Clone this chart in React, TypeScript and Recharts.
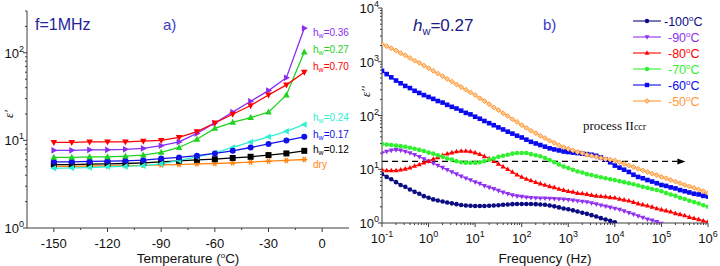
import React from 'react'
import { LineChart, Line, XAxis, YAxis, ReferenceLine } from 'recharts'

// ---- panel a) : eps' at 1 MHz vs temperature ----
const temps = [-150, -140, -130, -120, -110, -100, -90, -80, -70, -60, -50, -40, -30, -20, -10]
const epsDry = [5.05, 5.05, 5.1, 5.1, 5.15, 5.2, 5.25, 5.3, 5.4, 5.45, 5.55, 5.65, 5.8, 5.9, 6.05]
const eps012 = [5.3, 5.3, 5.35, 5.4, 5.45, 5.55, 5.7, 5.85, 6.0, 6.1, 6.3, 6.5, 6.8, 7.1, 7.6]
const eps017 = [5.7, 5.7, 5.75, 5.8, 5.85, 5.95, 6.2, 6.4, 6.7, 7.1, 7.6, 8.3, 9.1, 10, 11]
const eps024 = [4.8, 4.85, 4.9, 5.0, 5.05, 5.15, 5.4, 5.9, 6.5, 7.2, 8.3, 9.6, 11, 12.7, 15.2]
const eps027 = [6.4, 6.4, 6.5, 6.5, 6.6, 6.8, 7.3, 8.3, 10.3, 13.7, 16.1, 18.2, 21, 33, 102]
const eps036 = [7.7, 7.7, 7.8, 7.8, 7.9, 8.1, 8.7, 9.6, 12, 15.8, 21, 28, 37, 52, 191]
const eps070 = [9.5, 9.5, 9.6, 9.6, 9.6, 9.8, 10.0, 10.8, 12.6, 15.8, 19.9, 25, 33, 43, 60]

const tMajor = [-150, -120, -90, -60, -30, 0]
const tTicks = [-150, -135, -120, -105, -90, -75, -60, -45, -30, -15, 0]
const epsMajorA = [1, 10, 100]
const epsTicksA = [1, 2, 3, 4, 5, 6, 7, 8, 9, 10, 20, 30, 40, 50, 60, 70, 80, 90, 100, 200, 300]

// ---- panel b) : eps'' vs frequency, hw = 0.27 ----
const freqs = [
  0.1, 0.126, 0.158, 0.2, 0.251, 0.316, 0.398, 0.501, 0.631, 0.794,
  1, 1.26, 1.58, 2, 2.51, 3.16, 3.98, 5.01, 6.31, 7.94,
  10, 12.6, 15.8, 20, 25.1, 31.6, 39.8, 50.1, 63.1, 79.4,
  100, 126, 158, 200, 251, 316, 398, 501, 631, 794,
  1000, 1260, 1580, 2000, 2510, 3160, 3980, 5010, 6310, 7940,
  10000, 12600, 15800, 20000, 25100, 31600, 39800, 50100, 63100, 79400,
  100000, 126000, 158000, 200000, 251000, 316000, 398000, 501000, 631000, 794000,
  1000000,
]
const loss100 = [
  8.1, 7.2, 6.5, 5.75, 5.1, 4.7, 4.2, 3.8, 3.5, 3.16,
  2.95, 2.75, 2.63, 2.51, 2.4, 2.32, 2.24, 2.16, 2.11, 2.09,
  2.07, 2.07, 2.07, 2.09, 2.11, 2.14, 2.19, 2.21, 2.24, 2.26,
  2.26, 2.26, 2.26, 2.24, 2.21, 2.19, 2.11, 2.04, 1.95, 1.86,
  1.8, 1.72, 1.64, 1.55, 1.48, 1.4, 1.32, 1.23, 1.16, 1.1,
  1.03,
]
const loss90 = [
  20, 21.4, 22.4, 22.9, 22.4, 21.4, 20, 18.6, 17, 15.5,
  14.1, 12.9, 11.7, 10.7, 9.8, 8.9, 8.1, 7.4, 6.8, 6.3,
  5.75, 5.4, 4.9, 4.6, 4.3, 4.0, 3.7, 3.5, 3.3, 3.16,
  3.1, 3.0, 2.95, 2.92, 2.88, 2.88, 2.85, 2.82, 2.79, 2.75,
  2.7, 2.63, 2.57, 2.51, 2.45, 2.34, 2.24, 2.14, 2.04, 1.95,
  1.86, 1.78, 1.66, 1.55, 1.45, 1.35, 1.26, 1.17, 1.12, 1.05,
  0.98,
]
const loss80 = [
  9.8, 9.5, 9.5, 9.5, 9.8, 10.2, 10.7, 11.5, 12.3, 13.2,
  14.1, 15.5, 16.6, 18.2, 19.5, 20.4, 21.4, 21.9, 21.9, 21.4,
  20.4, 19.1, 17.4, 15.8, 14.1, 12.6, 11.2, 10, 8.9, 7.9,
  7.2, 6.6, 6.2, 5.75, 5.4, 5.1, 4.8, 4.6, 4.3, 4.1,
  3.9, 3.8, 3.6, 3.55, 3.45, 3.3, 3.2, 3.15, 3.1, 3.0,
  2.95, 2.8, 2.7, 2.6, 2.45, 2.3, 2.2, 2.1, 2.0, 1.86,
  1.78, 1.7, 1.62, 1.51, 1.45, 1.38, 1.29, 1.23, 1.17, 1.1,
  1.05,
]
const loss70 = [
  29.5, 28.8, 28.2, 27.5, 26.9, 26.3, 25.1, 24, 22.9, 21.9,
  20.4, 19.5, 18.2, 17, 15.8, 15.1, 14.1, 13.5, 13.2, 13.2,
  13.2, 13.5, 14.1, 15.1, 15.8, 17, 17.8, 18.6, 19.5, 20,
  20, 20, 19.1, 18.2, 17.4, 16.2, 14.8, 13.5, 12.3, 11.2,
  10.5, 9.8, 9.1, 8.7, 8.1, 7.8, 7.4, 7.1, 6.8, 6.5,
  6.3, 6.0, 5.75, 5.5, 5.25, 5.0, 4.7, 4.5, 4.3, 4.1,
  3.9, 3.6, 3.4, 3.2, 2.95, 2.8, 2.6, 2.45, 2.3, 2.14,
  2.0,
]
const loss60 = [
  676, 589, 513, 447, 398, 355, 324, 288, 263, 240,
  221, 204, 186, 174, 158, 145, 135, 123, 112, 105,
  95, 87, 79, 72, 66, 60, 55, 50, 46, 42,
  39, 35.5, 32.4, 30.2, 28.2, 26.3, 24.5, 23.4, 22.4, 21.4,
  20.9, 20.4, 20, 19.5, 19.1, 18.6, 17.8, 16.6, 15.1, 13.5,
  11.7, 10.7, 9.8, 8.9, 7.9, 7.2, 6.8, 6.3, 5.9, 5.5,
  5.1, 4.9, 4.6, 4.4, 4.1, 3.9, 3.7, 3.5, 3.4, 3.2,
  3.1,
]
const loss50 = [
  2140, 1950, 1780, 1620, 1450, 1320, 1175, 1050, 955, 851,
  759, 676, 603, 537, 479, 427, 380, 339, 302, 269,
  240, 209, 186, 162, 141, 126, 110, 98, 85, 76,
  66, 59, 52, 47, 42, 38, 34, 31, 28, 25.7,
  24, 22.4, 20.9, 20, 18.6, 17.8, 17, 16.2, 15.5, 15.1,
  14.5, 13.5, 12.6, 11.7, 11, 10.2, 9.5, 8.9, 8.3, 7.8,
  7.2, 6.8, 6.3, 5.9, 5.5, 5.1, 4.8, 4.5, 4.2, 3.9,
  3.6,
]

const fMajor = [0.1, 1, 10, 100, 1000, 10000, 100000, 1000000]
const fTicks = [
  0.1, 0.2, 0.3, 0.4, 0.5, 0.6, 0.7, 0.8, 0.9,
  1, 2, 3, 4, 5, 6, 7, 8, 9,
  10, 20, 30, 40, 50, 60, 70, 80, 90,
  100, 200, 300, 400, 500, 600, 700, 800, 900,
  1000, 2000, 3000, 4000, 5000, 6000, 7000, 8000, 9000,
  10000, 20000, 30000, 40000, 50000, 60000, 70000, 80000, 90000,
  100000, 200000, 300000, 400000, 500000, 600000, 700000, 800000, 900000,
  1000000,
]
const lossMajor = [1, 10, 100, 1000, 10000]
const lossTicks = [
  1, 2, 3, 4, 5, 6, 7, 8, 9,
  10, 20, 30, 40, 50, 60, 70, 80, 90,
  100, 200, 300, 400, 500, 600, 700, 800, 900,
  1000, 2000, 3000, 4000, 5000, 6000, 7000, 8000, 9000,
  10000,
]
const processLevel = 14

const FONT = '"Liberation Sans", Arial, sans-serif'
const AXIS = '#3c3c3c'

type Shape = 'circle' | 'square' | 'up' | 'down' | 'left' | 'right' | 'diamond' | 'star'

const seriesA = [
  { key: 'dry', label: 'dry', data: epsDry, color: '#ff8410', shape: 'star' as Shape, ly: 167.5 },
  { key: 'h12', label: '0.12', data: eps012, color: '#000000', shape: 'square' as Shape, ly: 152.5 },
  { key: 'h24', label: '0.24', data: eps024, color: '#2ff0d2', shape: 'left' as Shape, ly: 120.5 },
  { key: 'h17', label: '0.17', data: eps017, color: '#1212e8', shape: 'circle' as Shape, ly: 137.5 },
  { key: 'h27', label: '0.27', data: eps027, color: '#1ed21e', shape: 'up' as Shape, ly: 52.5 },
  { key: 'h36', label: '0.36', data: eps036, color: '#8a2cf2', shape: 'right' as Shape, ly: 35.5 },
  { key: 'h70', label: '0.70', data: eps070, color: '#ff0000', shape: 'down' as Shape, ly: 69.5 },
]

const seriesB = [
  { key: 'm100', label: '-100', data: loss100, color: '#0c0c82', shape: 'circle' as Shape },
  { key: 'm90', label: '-90', data: loss90, color: '#9030f0', shape: 'down' as Shape },
  { key: 'm80', label: '-80', data: loss80, color: '#ff0000', shape: 'up' as Shape },
  { key: 'm70', label: '-70', data: loss70, color: '#30f030', shape: 'circle' as Shape },
  { key: 'm60', label: '-60', data: loss60, color: '#0a0af0', shape: 'square' as Shape },
  { key: 'm50', label: '-50', data: loss50, color: '#ff9a38', shape: 'diamond' as Shape },
]

const rowsA = temps.map((t, i) => {
  const row: Record<string, number> = { t }
  seriesA.forEach((s) => (row[s.key] = s.data[i]))
  return row
})

const rowsB = freqs.map((f, i) => {
  const row: Record<string, number | null> = { f }
  seriesB.forEach((s) => (row[s.key] = s.data[i] ?? null))
  return row
})

function Marker({ shape, cx, cy, r, color }: { shape: Shape; cx: number; cy: number; r: number; color: string }) {
  switch (shape) {
    case 'circle':
      return <circle cx={cx} cy={cy} r={r} fill={color} />
    case 'square':
      return <rect x={cx - r} y={cy - r} width={2 * r} height={2 * r} fill={color} />
    case 'up':
      return <polygon points={`${cx},${cy - r * 1.2} ${cx + r * 1.1},${cy + r * 0.8} ${cx - r * 1.1},${cy + r * 0.8}`} fill={color} />
    case 'down':
      return <polygon points={`${cx},${cy + r * 1.2} ${cx + r * 1.1},${cy - r * 0.8} ${cx - r * 1.1},${cy - r * 0.8}`} fill={color} />
    case 'left':
      return <polygon points={`${cx - r * 1.2},${cy} ${cx + r * 0.8},${cy - r * 1.1} ${cx + r * 0.8},${cy + r * 1.1}`} fill={color} />
    case 'right':
      return <polygon points={`${cx + r * 1.2},${cy} ${cx - r * 0.8},${cy - r * 1.1} ${cx - r * 0.8},${cy + r * 1.1}`} fill={color} />
    case 'diamond':
      return (
        <polygon
          points={`${cx},${cy - r * 1.1} ${cx + r * 1.1},${cy} ${cx},${cy + r * 1.1} ${cx - r * 1.1},${cy}`}
          fill="#ffc890"
          stroke={color}
          strokeWidth={1}
        />
      )
    case 'star':
      return (
        <g stroke={color} strokeWidth={1.4}>
          <line x1={cx - r} y1={cy} x2={cx + r} y2={cy} />
          <line x1={cx - r * 0.5} y1={cy - r * 0.87} x2={cx + r * 0.5} y2={cy + r * 0.87} />
          <line x1={cx - r * 0.5} y1={cy + r * 0.87} x2={cx + r * 0.5} y2={cy - r * 0.87} />
        </g>
      )
  }
  return null
}

const dotFor = (shape: Shape, color: string, r: number) => (props: any) => {
  const { cx, cy, index } = props
  if (cx == null || cy == null || Number.isNaN(cx) || Number.isNaN(cy)) return <g key={`n${index}`} />
  return (
    <g key={`d${index}`}>
      <Marker shape={shape} cx={cx} cy={cy} r={r} color={color} />
    </g>
  )
}

const pow10 = (v: number) => (
  <>
    <tspan>10</tspan>
    <tspan dy={-6} fontSize={9}>
      {Math.round(Math.log10(v))}
    </tspan>
  </>
)

type Side = 'bottom' | 'left' | 'top' | 'right'
const makeTick = (side: Side, majors: number[], label?: (v: number) => React.ReactNode) => (props: any) => {
  const { x, y, payload } = props
  const v = payload.value
  const major = majors.includes(v)
  const len = major ? 4 : 2
  let line = null
  let text = null
  if (side === 'bottom') {
    line = <line x1={x} y1={y} x2={x} y2={y + len} stroke={AXIS} />
    if (major && label)
      text = (
        <text x={x} y={y + 20} textAnchor="middle" fontSize={13} fontFamily={FONT} fill="#111">
          {label(v)}
        </text>
      )
  } else if (side === 'left') {
    line = <line x1={x} y1={y} x2={x - len} y2={y} stroke={AXIS} />
    if (major && label)
      text = (
        <text x={x - 3} y={y + 5} textAnchor="end" fontSize={13} fontFamily={FONT} fill="#111">
          {label(v)}
        </text>
      )
  } else if (side === 'top') {
    line = <line x1={x} y1={y} x2={x} y2={y + len} stroke={AXIS} />
  } else {
    line = <line x1={x} y1={y} x2={x - len} y2={y} stroke={AXIS} />
  }
  return (
    <g>
      {line}
      {text}
    </g>
  )
}

const axisCommon = {
  tickSize: 0,
  tickMargin: 0,
  tickLine: false,
  interval: 0 as const,
  stroke: AXIS,
  allowDataOverflow: true,
}

function PanelA() {
  return (
    <LineChart width={360} height={266} data={rowsA} margin={{ top: 11, right: 11, bottom: 0, left: 0 }} style={{ overflow: 'visible' }}>
      <XAxis xAxisId="b" dataKey="t" type="number" domain={[-165, 15]} ticks={tTicks} height={38} tick={makeTick('bottom', tMajor, (v) => String(v))} {...axisCommon} />
      <XAxis xAxisId="t" dataKey="t" orientation="top" type="number" domain={[-165, 15]} ticks={tTicks} height={0} tick={makeTick('top', tMajor)} {...axisCommon} />
      <YAxis yAxisId="l" type="number" scale="log" domain={[1, 300]} ticks={epsTicksA} width={27} tick={makeTick('left', epsMajorA, pow10)} {...axisCommon} />
      <YAxis yAxisId="r" orientation="right" type="number" scale="log" domain={[1, 300]} ticks={epsTicksA} width={0} tick={makeTick('right', epsMajorA)} {...axisCommon} />
      {seriesA.map((s) => (
        <Line
          key={s.key}
          xAxisId="b"
          yAxisId="l"
          dataKey={s.key}
          stroke={s.color}
          strokeWidth={1.3}
          dot={dotFor(s.shape, s.color, 3)}
          isAnimationActive={false}
        />
      ))}
    </LineChart>
  )
}

function PanelB() {
  return (
    <LineChart width={370} height={266} data={rowsB} margin={{ top: 8, right: 12, bottom: 0, left: 0 }} style={{ overflow: 'visible' }}>
      <XAxis xAxisId="b" dataKey="f" type="number" scale="log" domain={[0.1, 1000000]} ticks={fTicks} height={43} tick={makeTick('bottom', fMajor, pow10)} {...axisCommon} />
      <XAxis xAxisId="t" dataKey="f" orientation="top" type="number" scale="log" domain={[0.1, 1000000]} ticks={fTicks} height={0} tick={makeTick('top', fMajor)} {...axisCommon} />
      <YAxis yAxisId="l" type="number" scale="log" domain={[1, 10000]} ticks={lossTicks} width={32} tick={makeTick('left', lossMajor, pow10)} {...axisCommon} />
      <YAxis yAxisId="r" orientation="right" type="number" scale="log" domain={[1, 10000]} ticks={lossTicks} width={0} tick={makeTick('right', lossMajor)} {...axisCommon} />
      <ReferenceLine
        xAxisId="b"
        yAxisId="l"
        segment={[
          { x: 0.1, y: processLevel },
          { x: 220000, y: processLevel },
        ]}
        shape={(p: any) => (
          <g>
            <line x1={p.x1} y1={p.y1} x2={p.x2} y2={p.y2} stroke="#000" strokeWidth={1.2} strokeDasharray="6 4" />
            <polygon points={`${p.x2},${p.y2 - 3} ${p.x2 + 8},${p.y2} ${p.x2},${p.y2 + 3}`} fill="#000" />
          </g>
        )}
      />
      {seriesB.map((s) => (
        <Line
          key={s.key}
          xAxisId="b"
          yAxisId="l"
          dataKey={s.key}
          stroke={s.color}
          strokeWidth={1.1}
          dot={dotFor(s.shape, s.color, s.shape === 'diamond' ? 2.2 : 2.3)}
          isAnimationActive={false}
        />
      ))}
    </LineChart>
  )
}

function Overlay() {
  const legendY = [21, 37, 53, 69, 85, 101]
  return (
    <svg width={720} height={266} style={{ position: 'absolute', left: 0, top: 0, pointerEvents: 'none' }} fontFamily={FONT}>
      {/* panel a */}
      <text x={35} y={30} fontSize={16} fill="#23239c">f=1MHz</text>
      <text x={163} y={30} fontSize={15} fill="#3a3ac8">a)</text>
      {seriesA.map((s) => (
        <text key={s.key} x={313} y={s.ly} fontSize={10} fill={s.color}>
          {s.key === 'dry' ? (
            'dry'
          ) : (
            <>
              h<tspan fontSize={7} dy={2}>w</tspan>
              <tspan dy={-2}>={s.label}</tspan>
            </>
          )}
        </text>
      ))}
      <text x={188} y={263} fontSize={13.5} textAnchor="middle" fill="#111">
        Temperature (<tspan fontSize={8} dy={-5}>o</tspan>
        <tspan dy={5}>C)</tspan>
      </text>
      <text x={0} y={0} transform="translate(13,118) rotate(-90)" fontSize={13} fontStyle="italic" fill="#111" fontFamily="'Liberation Serif', serif">
        ε'
      </text>

      {/* panel b */}
      <text x={413} y={31} fontSize={17} fill="#1a1a82">
        <tspan fontStyle="italic">h</tspan>
        <tspan fontSize={11} dy={4}>w</tspan>
        <tspan dy={-4}>=0.27</tspan>
      </text>
      <text x={543} y={30} fontSize={15} fill="#3a3ac8">b)</text>
      {seriesB.map((s, i) => (
        <g key={s.key}>
          <line x1={633} y1={legendY[i]} x2={661} y2={legendY[i]} stroke={s.color} strokeWidth={1.1} />
          <Marker shape={s.shape} cx={647} cy={legendY[i]} r={2.2} color={s.color} />
          <text x={i === 0 ? 664 : 668} y={legendY[i] + 5} fontSize={12.5} fill={s.color}>
            {s.label}
            <tspan fontSize={8} dy={-5}>o</tspan>
            <tspan dy={5}>C</tspan>
          </text>
        </g>
      ))}
      <text x={583} y={130} fontSize={13} fill="#111" fontFamily="'Liberation Serif', serif">
        process II<tspan fontSize={10}>ccr</tspan>
      </text>
      <text x={545} y={263} fontSize={13.5} textAnchor="middle" fill="#111">
        Frequency (Hz)
      </text>
      <text x={0} y={0} transform="translate(370,97) rotate(-90)" fontSize={13} fontStyle="italic" fill="#111" fontFamily="'Liberation Serif', serif">
        ε''
      </text>
    </svg>
  )
}

export default function App() {
  return (
    <div style={{ position: 'absolute', left: 0, top: 0, width: 720, height: 266, background: '#fff', overflow: 'hidden' }}>
      <div style={{ position: 'absolute', left: 0, top: 0 }}>
        <PanelA />
      </div>
      <div style={{ position: 'absolute', left: 350, top: 0 }}>
        <PanelB />
      </div>
      <Overlay />
    </div>
  )
}
